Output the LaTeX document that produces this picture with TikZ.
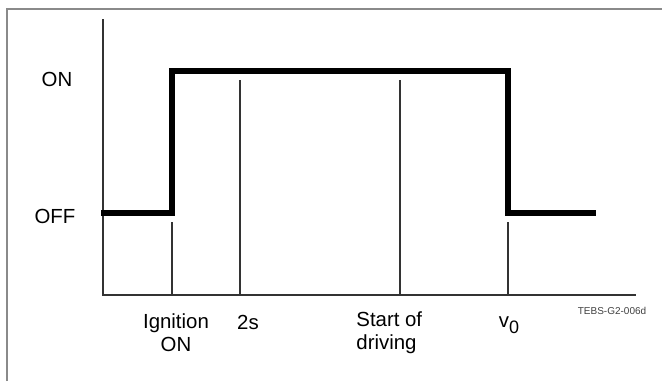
\documentclass[tikz,border=0pt]{standalone}
\usepackage{fontspec}
\setmainfont{Liberation Sans}
\usetikzlibrary{positioning}
\definecolor{framegrey}{HTML}{8A8A8A}
\definecolor{axisgrey}{HTML}{333333}

\begin{document}
\begin{tikzpicture}[
  x=0.5pt, y=-0.5pt,
  frame/.style={draw=framegrey, line width=0.8pt},
  axis/.style={draw=axisgrey, line width=1pt},
  level/.style={draw=black, line width=2.7pt, line join=miter},
  marker/.style={draw=axisgrey, line width=1pt},
  lbl/.style={font=\fontsize{10.2}{11.5}\selectfont, inner sep=0pt},
  tag/.style={font=\fontsize{5}{6}\selectfont, text=black!75, inner sep=0pt}
]
\useasboundingbox (0,0) rectangle (662,381);
\draw[frame] (7,381) |- (662,9);

\coordinate (origin) at (103,295);
\coordinate (ytop) at (103,19);
\coordinate (xend) at (636,295);
\draw[axis] (ytop) -- (origin) -- (xend);

\draw[level] (101,213) -- (172,213) -- (172,71) -- (508,71) -- (508,213) -- (596,213);

\draw[marker] (172,222) -- (172,295);
\draw[marker] (240,80) -- (240,295);
\draw[marker] (400,80) -- (400,295);
\draw[marker] (508,222) -- (508,295);

\node[lbl] (on) at (57,79) {ON};
\node[lbl] (off) at (55,216) {OFF};
\node[lbl, align=center] (ign) at (176,333) {Ignition\\ON};
\node[lbl] (two) at (248,322) {2s};
\node[lbl, align=left, anchor=west] (start) at (356,333) {Start of\\driving};
\node[lbl] (vzero) at (509,325) {v\raisebox{-0.55ex}{\fontsize{9}{10}\selectfont 0}};
\node[tag] (ref) at (612,311) {TEBS-G2-006d};
\end{tikzpicture}
\end{document}
